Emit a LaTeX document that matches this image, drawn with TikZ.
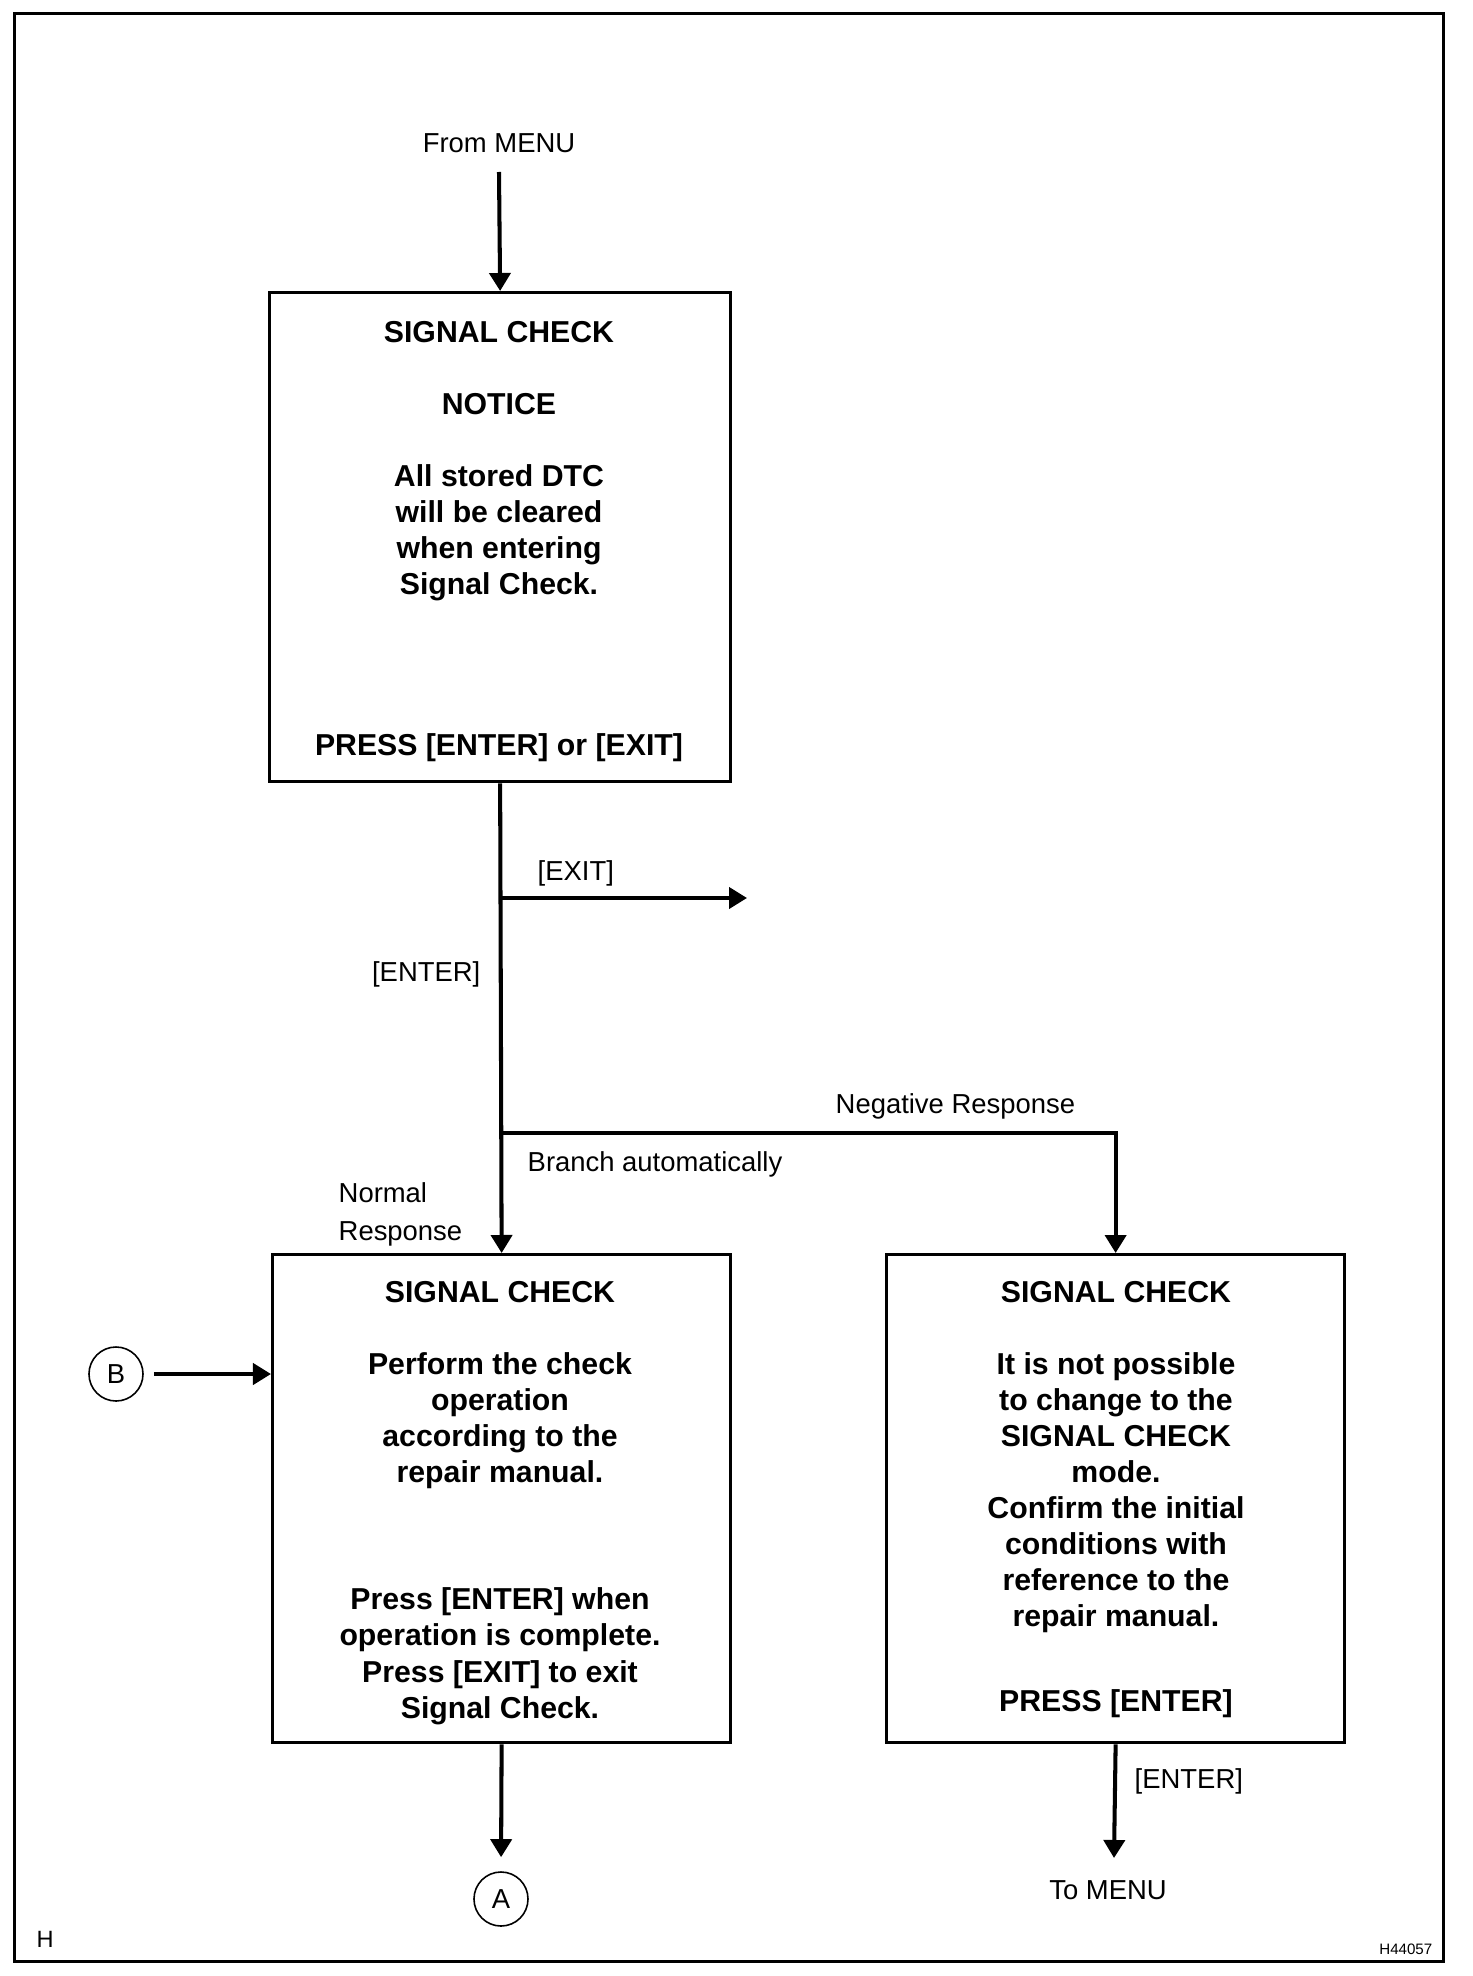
\documentclass[tikz,border=0pt]{standalone}
\usepackage{fontspec}
\setmainfont{Liberation Sans}
\usetikzlibrary{arrows.meta}
\tikzset{
  box/.style={draw, line width=0.85pt, inner sep=0pt, anchor=north west},
  boxtext/.style={font=\fontsize{8.6pt}{10.24pt}\bfseries\selectfont, align=center, anchor=base, inner sep=0pt},
  lbl/.style={font=\fontsize{7.8pt}{10.53pt}\selectfont, inner sep=0pt},
  arr/.style={line width=1.15pt, -{Triangle[length=0.18cm,width=0.21cm]}},
  conn/.style={draw, circle, line width=0.45pt, minimum size=0.54cm, inner sep=0pt, font=\fontsize{7.8pt}{9pt}\selectfont}
}
\begin{document}
\begin{tikzpicture}[x=0.01cm, y=-0.01cm]
  \useasboundingbox (0,0) rectangle (1472,1976);
  \draw[line width=0.85pt] (14.5,14) rectangle (1443.5,1961);

  % boxes
  \node[box, minimum width=4.61cm, minimum height=4.89cm] (notice) at (268,291) {};
  \node[box, minimum width=4.58cm, minimum height=4.88cm] (normal) at (271,1253) {};
  \node[box, minimum width=4.58cm, minimum height=4.88cm] (negative) at (885,1253) {};

  % box texts, placed by their last baseline
  \node[boxtext] (noticetxt) at (499,755) {SIGNAL CHECK\\[0.36cm]NOTICE\\[0.36cm]All stored DTC\\will be cleared\\when entering\\Signal Check.\\[1.24cm]PRESS [ENTER] or [EXIT]};
  \node[boxtext] (normaltxt) at (500,1718) {SIGNAL CHECK\\[0.36cm]Perform the check\\operation\\according to the\\repair manual.\\[0.91cm]Press [ENTER] when\\operation is complete.\\Press [EXIT] to exit\\Signal Check.};
  \node[boxtext] (negativetxt) at (1116,1711) {SIGNAL CHECK\\[0.36cm]It is not possible\\to change to the\\SIGNAL CHECK\\mode.\\Confirm the initial\\conditions with\\reference to the\\repair manual.\\[0.48cm]PRESS [ENTER]};

  % labels
  \node[lbl, anchor=base] (frommenu) at (499,153) {From MENU};
  \node[lbl, anchor=base west] (exitlbl) at (537,880) {[EXIT]};
  \node[lbl, anchor=base east] (enterlbl) at (481,981) {[ENTER]};
  \node[lbl, anchor=base west] (neglbl) at (835,1113) {Negative Response};
  \node[lbl, anchor=base west] (branchlbl) at (527,1171) {Branch automatically};
  \node[lbl, anchor=base west, align=left] (normallbl) at (338,1240) {Normal\\Response};
  \node[lbl, anchor=base west] (enterlbl2) at (1134,1788) {[ENTER]};
  \node[lbl, anchor=base] (tomenu) at (1108,1899) {To MENU};

  \node[conn] (circB) at (116,1374) {B};
  \node[conn] (circA) at (501,1899) {A};

  \node[lbl, anchor=base west, font=\fontsize{6.7pt}{8pt}\selectfont] (hmark) at (36,1947) {H};
  \node[lbl, anchor=base east, font=\fontsize{4.3pt}{5pt}\selectfont] (figno) at (1433,1954) {H44057};

  % connectors
  \coordinate (menuin) at (499,172);
  \coordinate (exitpt) at (499,898);
  \coordinate (exitend) at (747,898);
  \coordinate (branchpt) at (499,1133);
  \coordinate (menuout) at (1114,1858);

  \draw[arr] (menuin) -- (notice.north);
  \draw[arr] (notice.south) -- (normal.north);
  \draw[arr] (exitpt) -- (exitend);
  \draw[arr] (branchpt) -| (negative.north);
  \draw[arr, shorten <=0.1cm] (circB.east) -- (circB.east -| normal.west);
  \draw[arr, shorten >=0.14cm] (normal.south) -- (circA.north);
  \draw[arr] (negative.south) -- (menuout);
\end{tikzpicture}
\end{document}
